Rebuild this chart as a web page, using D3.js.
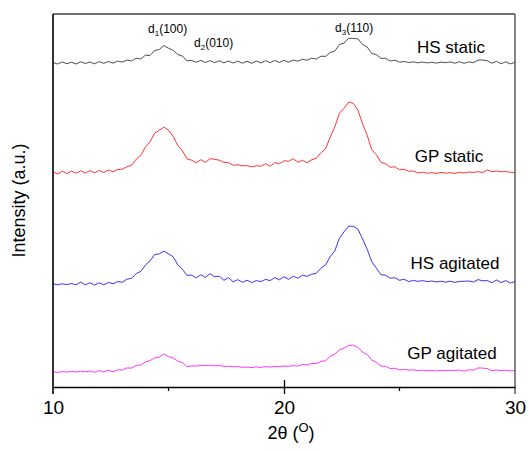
<!DOCTYPE html>
<html>
<head>
<meta charset="utf-8">
<script src="https://cdn.jsdelivr.net/npm/d3@7"></script>
<style>
  body { margin: 0; background: #fff; }
  svg text { font-family: "Liberation Sans", Arial, sans-serif; fill: #000; }
</style>
</head>
<body>
<svg id="xrd" width="528" height="451"></svg>
<script>
// 2theta sampling grid (deg), 0.2 step
var twoTheta = d3.range(0, 101).map(function(i) { return +(10 + i * 0.2).toFixed(1); });

// intensities above each trace's own baseline (a.u.)
var hsStatic = [1.5,0,2,0.3,1.8,0,2.2,0.5,1.9,0.2,2.4,0.7,2.6,0.8,2.9,2,3.9,3,5.8,5,
  8.8,8.5,13.5,14.5,18.5,15.8,13.8,9.5,8,3.2,3.6,1.8,3.6,1.5,3.4,1.3,3.2,1.2,3,0.9,
  2.9,0.8,2.7,0.7,3,1.1,3.3,1.3,3.5,1.5,3.7,1.8,3.9,2.8,4.7,3.8,5.8,5,7.8,7.6,
  11.5,13,19.5,21,25.8,25.5,25.2,19.5,17,10.5,9.4,5.6,5.8,3,3.8,1.8,2.5,1.5,2.1,1.2,
  1.9,1.1,1.7,0.9,1.9,1.3,2.1,0.8,2.3,0.7,2.1,1.3,3.9,4,3.2,0.8,2.6,0.3,2.2,0.1,1.6];
var gpStatic = [2.2,0,2.8,0.4,3,0.7,3.2,1,3.4,1.2,3.6,1.4,4,2.2,4.6,4.8,7.3,8.7,14.8,18.7,
  26.8,32.2,40.8,43.7,46.8,43.7,37.8,28.7,23.3,15.2,13.8,11.2,14.3,11.7,15.3,14.7,13.8,11.7,11.3,8.7,
  9.3,8.2,8.3,7.2,8.3,7.7,10.3,7.7,11.3,10.2,13.3,12.7,15.3,11.7,13.8,11.2,14.3,15.7,21.3,25.2,
  36.8,47.2,60.8,65.7,71.8,70.7,63.8,50.2,38.8,24.2,19.3,11.7,10.3,6.7,7.3,4.2,4.8,2.7,3,1,
  1.8,0.8,1.3,0.6,1.6,0.8,1.4,0.6,1.7,1,2,1.6,2.3,1.4,4.2,2.2,3,2.2,2.6,1.6,1.6];
var hsAgitated = [1.3,0.2,1.2,0.4,1.4,0.2,3,0.2,2.3,0,2.2,0.2,2.6,1.2,3.4,2.7,5.8,6.7,11.3,13.7,
  19.8,24.2,30.3,31.2,33.8,31.2,28.3,20.2,15.8,9.7,9.8,7.2,10.3,7.7,11.3,8.2,8.8,4.7,7.3,3.2,
  5.3,2.7,4.8,2.4,4.4,3.4,5.6,4.4,7.3,5.2,8.3,5.7,8.8,6.7,9.8,8.7,10.8,11.7,16.8,20.2,
  28.3,34.2,46.8,53.2,58.8,58.7,55.8,46.2,35.8,23.2,16.8,10.2,9.8,6.7,7.3,4.7,5.8,3.4,4.6,3.6,
  4.4,3.4,4,3,3.8,2.8,3.8,2.6,3.6,3.7,4,3,5.4,4.2,4.4,2.2,5,2.4,4.4,2,3.4];
var gpAgitated = [1.1,0.6,1.4,0.9,1.6,1,1.8,1.2,2,0.6,2.5,1,2.8,1.3,3.2,2.9,5.1,4.9,7.6,7.9,
  11.1,12.4,15.1,15.9,19.1,16.4,15.1,11.9,10.6,6.4,7.1,6.9,7.6,7.4,7.8,7.2,7.4,6.6,6.8,6.2,
  6.4,5.6,6,5.4,6.1,5.6,6.4,5.9,6.6,6.2,7,6.6,7.4,6.9,8.6,8,9.6,9.4,11.6,12.4,
  16.6,18.9,23.1,24.9,27.6,27.9,25.6,20.9,18.6,12.9,10.6,6.9,6.6,4.4,4.8,3,3.6,2.8,3.1,2.2,
  2.8,2.2,2.6,2,2.6,2.2,2.8,2.4,3,1.8,3.2,2.8,5.1,4.9,4.4,2.4,3,2.4,2.8,2.2,2.4];

var sampleNames = ["HS static", "GP static", "HS agitated", "GP agitated"];
var sampleColors = ["#222222", "#ff0000", "#0000ff", "#ff00ff"];
var sampleOffsets = [323, 213, 102, 14];
var sampleData = [hsStatic, gpStatic, hsAgitated, gpAgitated];
var labelPos = [[451, 53], [449, 162], [455, 269], [452, 359]]; // [x, baseline]

var xTicks = [10, 20, 30];
var xMinor = [15, 25];

var margin = { top: 14, right: 13, bottom: 64, left: 53 };
var width = 528 - margin.left - margin.right;
var height = 451 - margin.top - margin.bottom;

var svg = d3.select("#xrd");
var g = svg.append("g")
  .attr("transform", "translate(" + margin.left + "," + margin.top + ")");

var x = d3.scaleLinear().domain([10, 30]).range([0, width]);
var y = d3.scaleLinear().domain([0, 373]).range([height, 0]);

// traces
var line = d3.line()
  .x(function(d) { return x(d[0]); })
  .y(function(d) { return y(d[1]); });

sampleData.forEach(function(vals, k) {
  var pts = twoTheta.map(function(t, i) { return [t, vals[i] + sampleOffsets[k]]; });
  g.append("path")
    .datum(pts)
    .attr("fill", "none")
    .attr("stroke", sampleColors[k])
    .attr("stroke-width", 0.8)
    .attr("d", line);
  g.append("text")
    .attr("x", labelPos[k][0] - margin.left)
    .attr("y", labelPos[k][1] - margin.top)
    .attr("text-anchor", "middle")
    .style("font-size", "17px")
    .text(sampleNames[k]);
});

// frame
g.append("line").attr("x1", 0).attr("x2", width).attr("y1", 0).attr("y2", 0)
  .attr("stroke", "#444").attr("stroke-width", 1.3);
g.append("line").attr("x1", width).attr("x2", width).attr("y1", 0).attr("y2", height + 7)
  .attr("stroke", "#444").attr("stroke-width", 1.3);
g.append("line").attr("x1", 0).attr("x2", 0).attr("y1", 0).attr("y2", height + 7)
  .attr("stroke", "#000").attr("stroke-width", 1.6);

var xAxis = d3.axisBottom(x).tickValues(xTicks).tickSize(0).tickFormat(d3.format("d"));
var ax = g.append("g").attr("transform", "translate(0," + height + ")").call(xAxis);
ax.select(".domain").attr("stroke", "#000").attr("stroke-width", 1.6);
ax.selectAll(".tick text").attr("dy", 0).attr("y", 27).style("font-size", "19px");
ax.selectAll(".tick").filter(function(d) { return d === 20; })
  .append("line").attr("y1", -7).attr("y2", 7).attr("stroke", "#000").attr("stroke-width", 1.3);
ax.selectAll(".minor").data(xMinor).enter().append("line")
  .attr("x1", function(d) { return x(d); }).attr("x2", function(d) { return x(d); })
  .attr("y1", 0).attr("y2", 4).attr("stroke", "#000").attr("stroke-width", 1.2);

// axis titles
var xt = g.append("text")
  .attr("x", width / 2 + 7)
  .attr("y", height + 52)
  .attr("text-anchor", "middle")
  .style("font-size", "18px");
xt.append("tspan").text("2θ (");
xt.append("tspan").attr("dy", -7).style("font-size", "13px").text("O");
xt.append("tspan").attr("dy", 7).text(")");

g.append("text")
  .attr("transform", "translate(" + (-28) + "," + (height / 2) + ") rotate(-90)")
  .attr("text-anchor", "middle")
  .style("font-size", "18px")
  .text("Intensity (a.u.)");

// peak annotations
var peakNames = ["1", "2", "3"];
var peakHkl = ["(100)", "(010)", "(110)"];
var peakPos = [[148, 33], [194, 47], [335, 32]];
peakNames.forEach(function(n, i) {
  var t = g.append("text")
    .attr("x", peakPos[i][0] - margin.left)
    .attr("y", peakPos[i][1] - margin.top)
    .style("font-size", "12px");
  t.append("tspan").text("d");
  t.append("tspan").attr("dy", 3).style("font-size", "8px").text(n);
  t.append("tspan").attr("dy", -3).text(peakHkl[i]);
});
</script>
</body>
</html>
